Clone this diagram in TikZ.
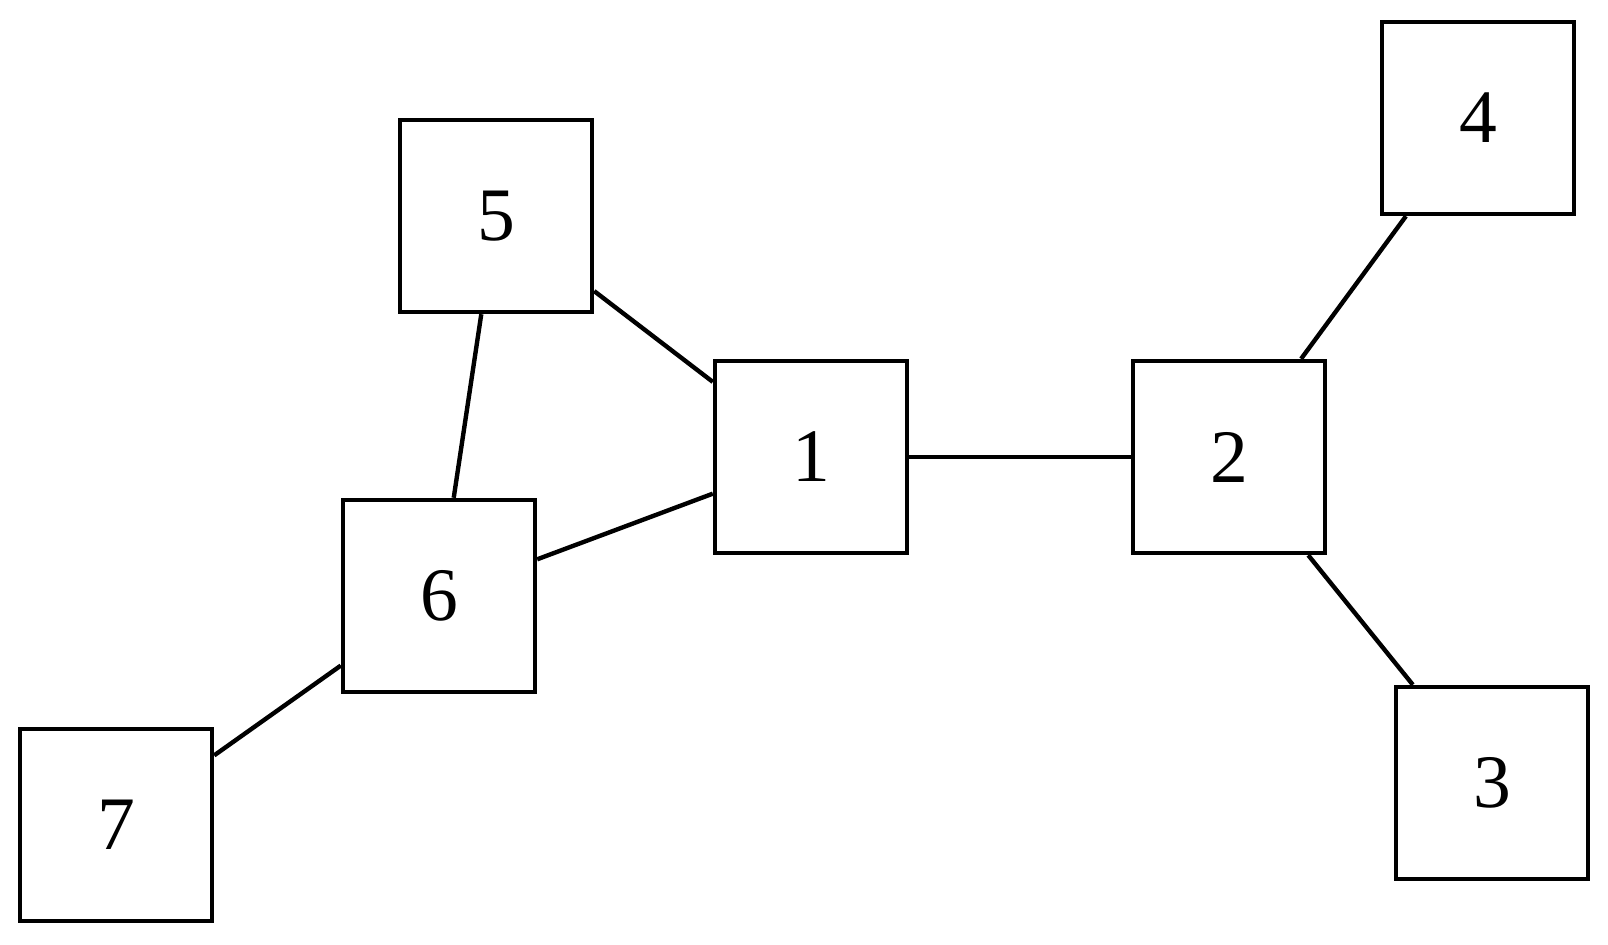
\documentclass[tikz,border=0pt]{standalone}
\usepackage{fontspec}
\setmainfont{Liberation Serif}
\usetikzlibrary{positioning}
\tikzset{
  vertex/.style={draw,line width=1.25pt,minimum width=1.92cm,minimum height=1.92cm,
    inner sep=0pt,font=\fontsize{21.5}{21.5}\selectfont},
  link/.style={line width=1.25pt}
}

\begin{document}
\begin{tikzpicture}
  \useasboundingbox (0,0) rectangle (16.08,9.44);
  \node[vertex] (n5) at (4.96,7.28) {5};
  \node[vertex] (n1) at (8.11,4.87) {1};
  \node[vertex] (n2) at (12.29,4.87) {2};
  \node[vertex] (n4) at (14.78,8.26) {4};
  \node[vertex] (n3) at (14.92,1.61) {3};
  \node[vertex] (n6) at (4.39,3.48) {6};
  \node[vertex] (n7) at (1.16,1.19) {7};
  \draw[link] (n5) -- (n1);
  \draw[link] (n5) -- (n6);
  \draw[link] (n6) -- (n1);
  \draw[link] (n1) -- (n2);
  \draw[link] (n2) -- (n4);
  \draw[link] (n2) -- (n3);
  \draw[link] (n6) -- (n7);
\end{tikzpicture}
\end{document}
